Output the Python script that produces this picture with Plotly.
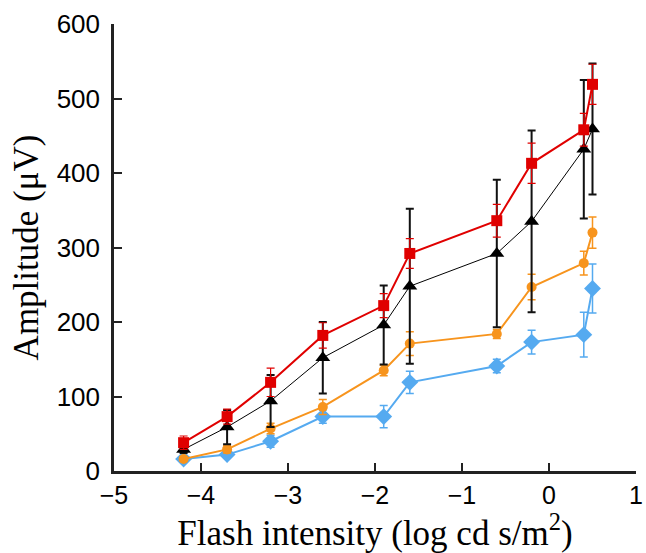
import plotly.graph_objects as go

intensity = [-4.2, -3.7, -3.2, -2.6, -1.9, -1.6, -0.6, -0.2, 0.4, 0.5]

red_y = [38, 73, 119, 182, 222, 292, 336, 413, 458, 519]
red_err = [9, 10, 19, 17, 16, 20, 22, 27, 22, 27]

black_y = [29, 59, 94, 152, 196, 248, 292, 335, 432, 459]
black_err = [5, 23, 35, 48, 53, 104, 99, 122, 93, 88]

orange_y = [16, 29, 57, 86, 135, 171, 184, 247, 279, 320]
orange_err = [3, 5, 7, 10, 7, 16, 6, 17, 16, 21]

blue_y = [16, 22, 40, 73, 73, 119, 141, 173, 183, 245]
blue_err = [3, 3, 8, 9, 15, 15, 9, 16, 30, 33]

x_ticks = [-5, -4, -3, -2, -1, 0, 1]
x_tick_text = ["\u22125", "\u22124", "\u22123", "\u22122", "\u22121", "0", "1"]
y_ticks = [0, 100, 200, 300, 400, 500, 600]

RED = "#e00000"
BLACK = "#000000"
ORANGE = "#f7941d"
BLUE = "#55aaf0"

fig = go.Figure()

def add(y, err, color, symbol, size, lw, ecolor, ethick):
    fig.add_trace(go.Scatter(
        x=intensity, y=y, mode="lines+markers",
        line=dict(color=color, width=lw),
        marker=dict(symbol=symbol, size=size, color=color, line=dict(width=0)),
        error_y=dict(type="data", array=err, visible=True, color=ecolor,
                     thickness=ethick, width=4),
        showlegend=False,
    ))

add(blue_y, blue_err, BLUE, "diamond", 13, 2, BLUE, 1.5)
add(orange_y, orange_err, ORANGE, "circle", 10, 2, ORANGE, 1.5)
add(black_y, black_err, BLACK, "triangle-up", 13, 1, "#111111", 2)
add(red_y, red_err, RED, "square", 11, 2, RED, 1.2)

SERIF = "Liberation Serif, Times New Roman, serif"

fig.update_layout(
    width=646, height=553,
    margin=dict(l=114, r=3, t=24, b=82),
    paper_bgcolor="white", plot_bgcolor="white",
    font=dict(family="Liberation Sans, Arial, sans-serif", size=25, color="black"),
    xaxis=dict(
        range=[-5, 1], tickvals=x_ticks, ticktext=x_tick_text,
        ticks="inside", ticklen=8, tickwidth=2, tickcolor="#222",
        showline=True, linecolor="#222", linewidth=2.5,
        showgrid=False, zeroline=False,
        ticklabeloverflow="allow",
        title=dict(text="Flash intensity (log cd s/m<sup>2</sup>)",
                   font=dict(family=SERIF, size=35),
                   standoff=2),
        tickfont=dict(size=25),
    ),
    yaxis=dict(
        range=[0, 600], tickvals=y_ticks,
        ticks="inside", ticklen=8, tickwidth=2, tickcolor="#222",
        showline=True, linecolor="#222", linewidth=2.5,
        showgrid=False, zeroline=False,
        ticklabelstandoff=6,
        title=dict(text="Amplitude (\u03bcV)",
                   font=dict(family=SERIF, size=35),
                   standoff=8),
        tickfont=dict(size=26),
    ),
)

fig.write_html("out.html", config={"displayModeBar": False},
               post_script="document.body.style.margin='0';")
